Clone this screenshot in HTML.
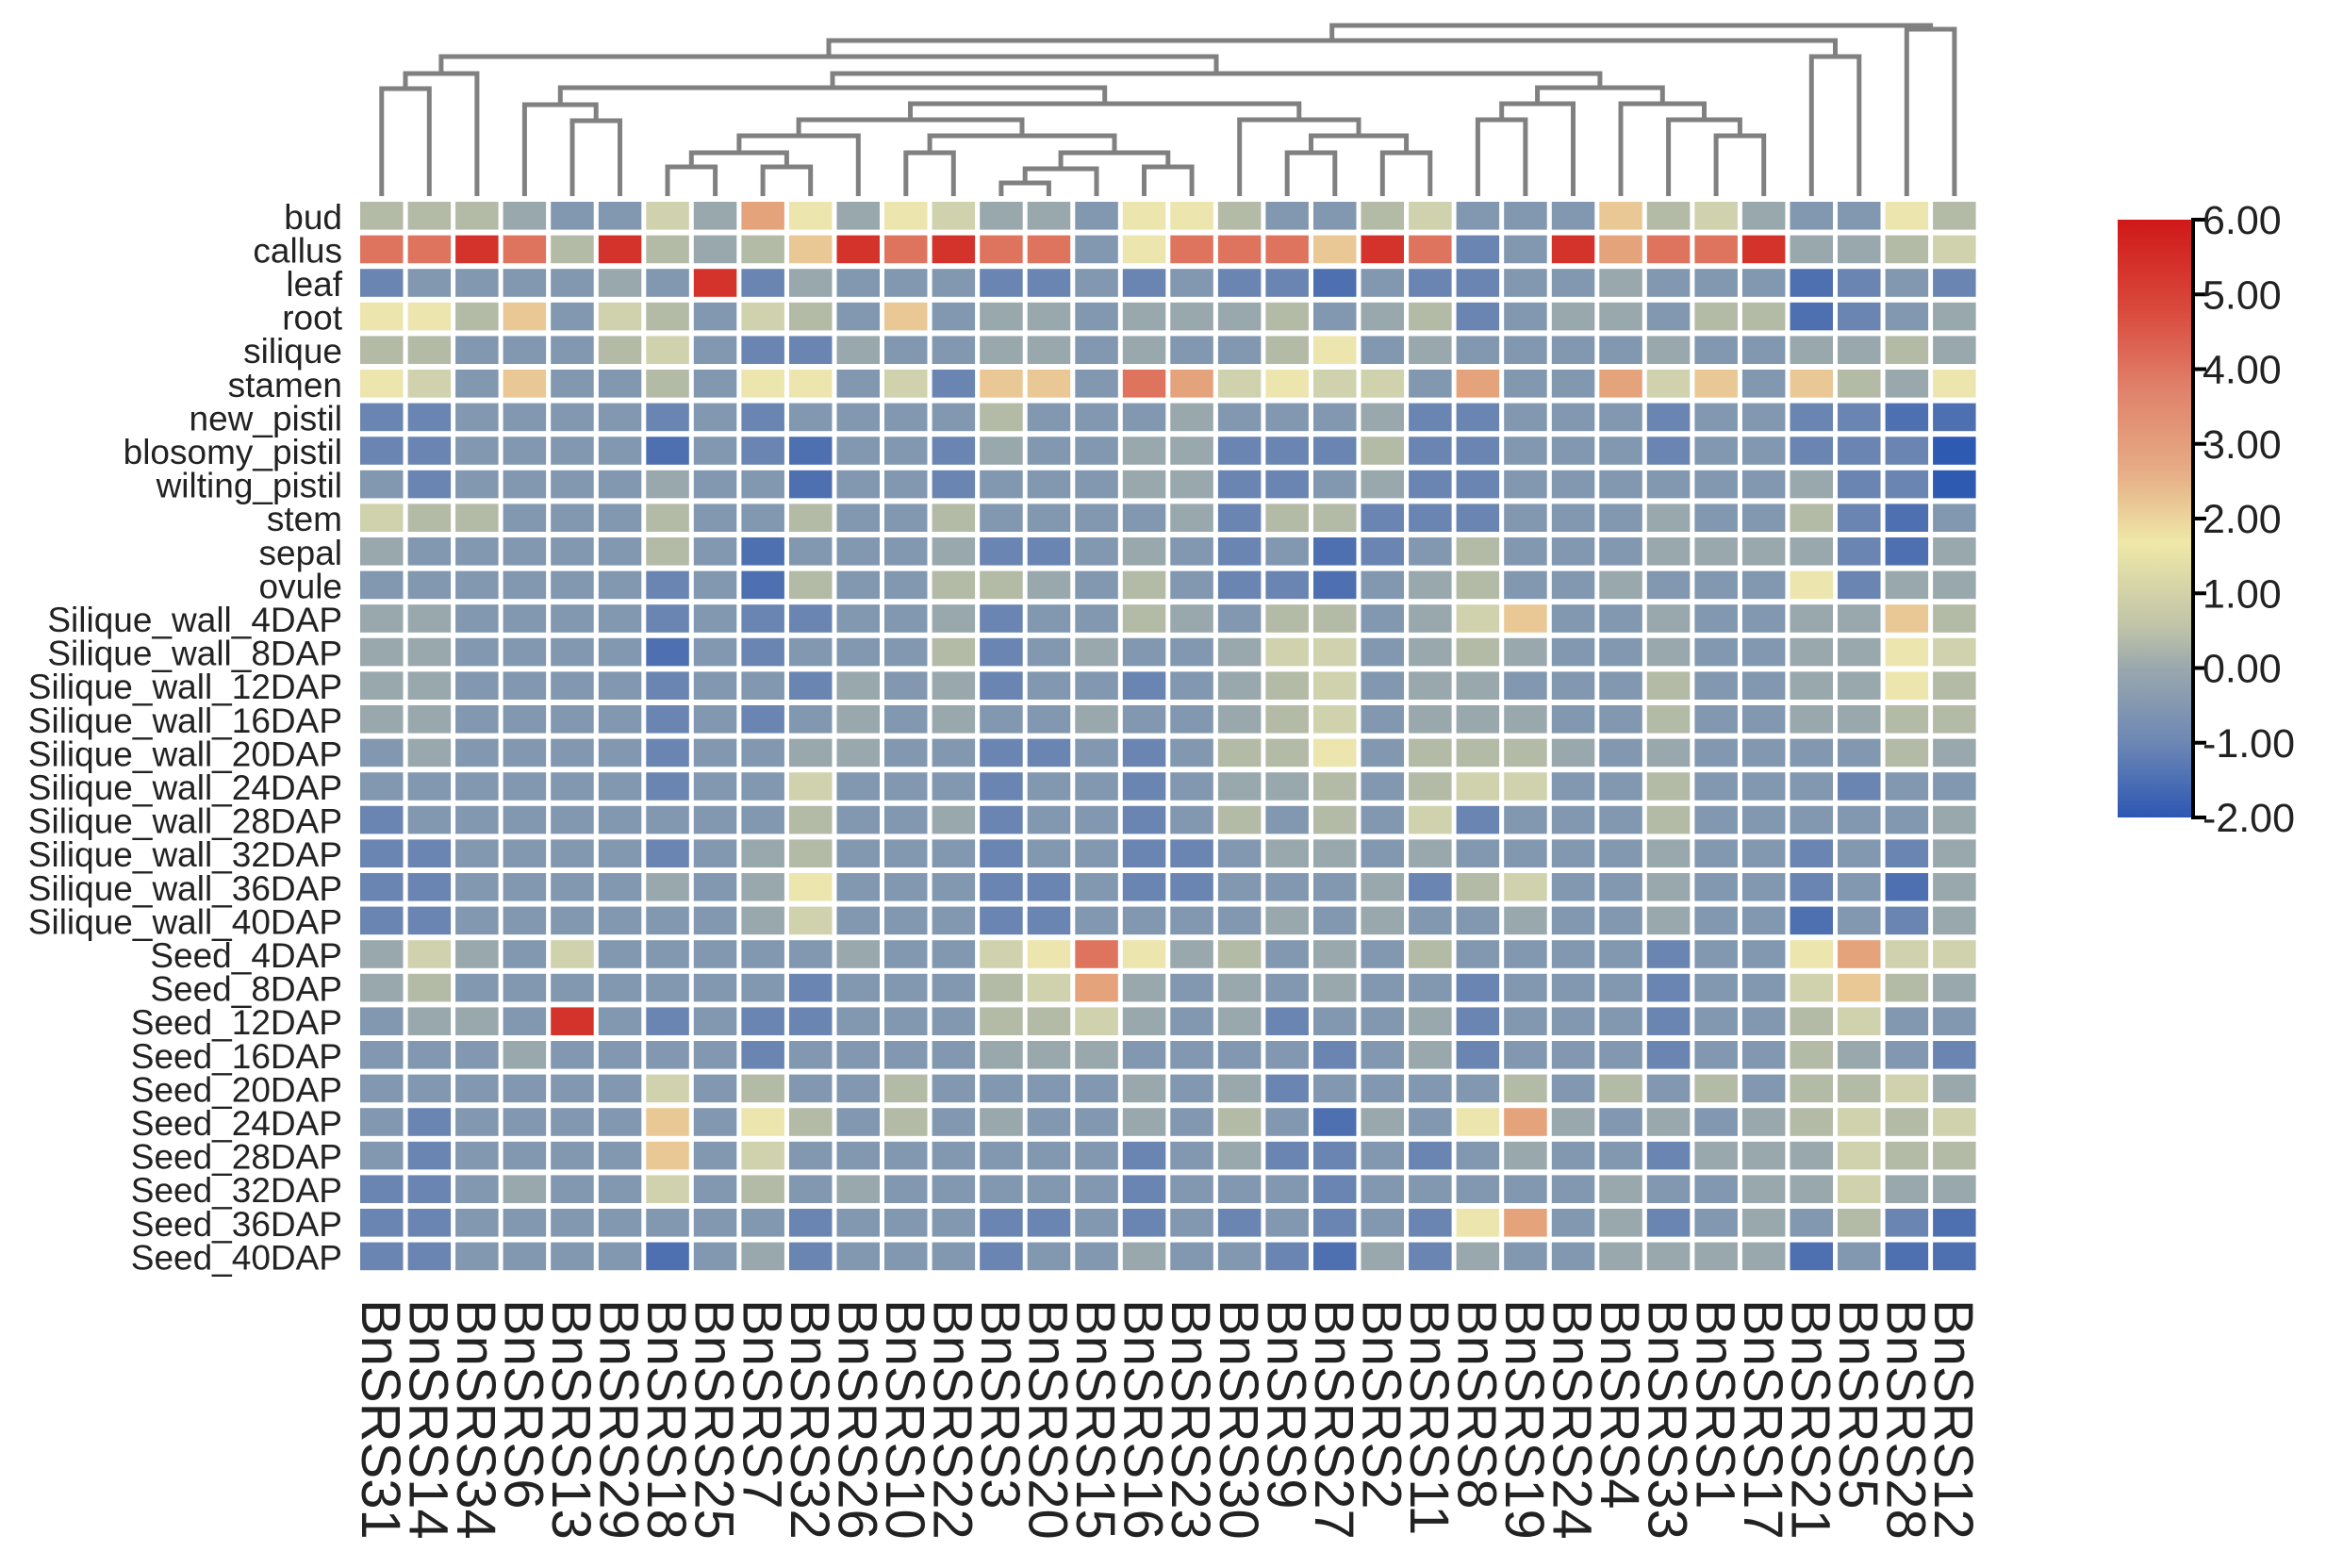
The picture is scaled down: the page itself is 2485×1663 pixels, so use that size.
<!DOCTYPE html>
<html><head><meta charset="utf-8">
<style>
html,body{margin:0;padding:0;background:#fff;}
svg{display:block;}
text{font-family:"Liberation Sans",Arial,sans-serif;fill:#222;}
</style></head>
<body>
<svg id="s" width="2485" height="1663" viewBox="0 0 2485 1663" xmlns="http://www.w3.org/2000/svg">
<defs>
<linearGradient id="cb" x1="0" y1="1" x2="0" y2="0">
<stop offset="0" stop-color="#2c57b3"/>
<stop offset="0.125" stop-color="#6d87b5"/>
<stop offset="0.25" stop-color="#9aa8ad"/>
<stop offset="0.32" stop-color="#c0c4a8"/>
<stop offset="0.46" stop-color="#efe8a8"/>
<stop offset="0.58" stop-color="#e6ac85"/>
<stop offset="0.72" stop-color="#e0806a"/>
<stop offset="0.85" stop-color="#d9493c"/>
<stop offset="1" stop-color="#d01818"/>
</linearGradient>
</defs>
<g id="cells"></g>
<g id="dend" stroke="#808080" stroke-width="5" fill="none"></g>
<g id="rl" font-size="37" text-anchor="end"></g>
<g id="cl" font-size="58"></g>
<rect x="2246" y="233" width="78" height="634" fill="url(#cb)"/>
<g stroke="#000" stroke-width="4">
<line x1="2326" y1="231" x2="2326" y2="869"/>
</g>
<g id="cbt"></g>
</svg>
<script>
var NS="http://www.w3.org/2000/svg";
function el(t,a,p,txt){var e=document.createElementNS(NS,t);for(var k in a)e.setAttribute(k,a[k]);if(txt!==undefined)e.textContent=txt;p.appendChild(e);return e;}
var C={D:"#2e5ab2",B:"#4f70b0",b:"#6a85b2",m:"#8198b0",g:"#99a8ad",n:"#b3baa6",y:"#cfd2ad",Y:"#ece5ae",p:"#eac896",o:"#e5a37c",O:"#df745e",R:"#d3332b"};
var rows=[
["bud","nnngmmygoYgYyggmY","YnmmnymmmpnygmmYn"],
["callus","OOROnRngnpROROOmY","OOOpRObmRoOORggny"],
["leaf","bmmmmgmRbgmmmbbmb","mbbBmbbmmgmmmBbmb"],
["root","YYnpmynmynmpmggmg","ggnmgnbmggmnnBbmg"],
["silique","nnmmmnymbbgmmggmg","mmnYmgmmmmgmmggng"],
["stamen","YympmmnmYYmybppmO","oyYyymommoypmpngY"],
["new_pistil","bbmmmmbmbmmmmnmmm","gmmmgbbmmmbmmbbBB"],
["blosomy_pistil","bbmmmmBmbBmmbgmmg","gbbbnbbmmmbmmbbbD"],
["wilting_pistil","mbmmmmgmmBmmbmmmg","gbbmgbbmmmmmmgbbD"],
["stem","ynnmmmnmmnmmnmmmm","gbnnbbbmmmgmmnbBm"],
["sepal","gmmmmmnmBmmmgbbmg","mbmBbmnmmmggggbBg"],
["ovule","mmmmmmbmBnmmnngmn","mbbBmgnmmgmmmYbgg"],
["Silique_wall_4DAP","ggmmmmbmbbmmgbmmn","gmnnmgypmmgmmggpn"],
["Silique_wall_8DAP","ggmmmmBmbmmmnbmgm","mgyymgngmmgmmggYy"],
["Silique_wall_12DAP","ggmmmmbmmbgmgbmmb","mgnymggmmmnmmggYn"],
["Silique_wall_16DAP","ggmmmmbmbmgmgmmgm","mgnymgggmmnmmggnn"],
["Silique_wall_20DAP","mgmmmmbmmggmmbbmb","mnnYmnnngmgmmmmng"],
["Silique_wall_24DAP","mmmmmmbmmymmmbmmb","mggnmnyymmnmmmbmm"],
["Silique_wall_28DAP","bmmmmmmmmnmmgbmmb","mnmnmybmmmnmmmmmg"],
["Silique_wall_32DAP","bbmmmmbmgnmmmbmmb","bmggmgmmmmgmmbmbg"],
["Silique_wall_36DAP","bbmmmmgmgYmmmbbmb","bmmmgbnymmgmmbmBg"],
["Silique_wall_40DAP","bbmmmmmmgymmmbbmm","mmgmgmmgmmgmmBmbg"],
["Seed_4DAP","gygmymmmmmgmmyYOY","gnmgmnmmmmbmmYoyy"],
["Seed_8DAP","gnmmmmmmmbmmmnyog","mgmgmmbmmmbmmypng"],
["Seed_12DAP","mggmRmbmbbmmmnnyg","mgbmmgbmmmbmmnymm"],
["Seed_16DAP","mmmgmmmmbmmmmgggm","mmmbmgbmmmbmmngmb"],
["Seed_20DAP","mmmmmmymnmmnmmmmg","mgbmmmmnmnmnmnnyg"],
["Seed_24DAP","mbmmmmpmYnmnmgmmg","mnmBgmYogmgmgnyny"],
["Seed_28DAP","mbmmmmpmymmmmmmmb","mgbbmbmgmmbgggynn"],
["Seed_32DAP","bbmgmmymnmgmmmmmb","mmmbmmmmmgmmggygg"],
["Seed_36DAP","bbmmmmmmmbmmmbbmb","mbmbmbYomgbmgmnbB"],
["Seed_40DAP","bbmmmmBmgbmmmbmmg","mmbBgbgmmggggBmBB"]
];
var names=["31","14","34","6","13","29","18","25","7","32","26","10","22","3","20","15","16","23","30","9","27","2","11","8","19","24","4","33","1","17","21","5","28","12"];
var X0=382,PX=50.55,CW=45.5,Y0=214,PY=35.6,CH=29.6;
var cells=document.getElementById("cells"),rl=document.getElementById("rl"),cl=document.getElementById("cl");
rows.forEach(function(r,i){
 var s=r[1]+r[2],y=Y0+i*PY;
 for(var j=0;j<34;j++){el("rect",{x:(X0+j*PX).toFixed(1),y:y.toFixed(1),width:CW,height:CH,fill:C[s[j]]||"#8198b0"},cells);}
 el("text",{x:363,y:(y+CH/2+14).toFixed(1)},rl,r[0]);
});
function cx(j){return X0+CW/2+j*PX;}
names.forEach(function(n,j){
 var x=cx(j)-0.36*58;
 el("text",{transform:"translate("+x.toFixed(1)+",1378) rotate(90)"},cl,"BnSRS"+n);
});
var d=document.getElementById("dend");
function draw(n){
 if(typeof n==="number")return {x:cx(n),y:208};
 var a=draw(n[0]),b=draw(n[1]),h=n[2];
 el("path",{d:"M"+a.x.toFixed(1)+" "+a.y+"V"+h+"H"+b.x.toFixed(1)+"V"+b.y},d);
 return {x:(a.x+b.x)/2,y:h};
}
var T012=[[0,1,94],2,78];
var T345=[3,[4,5,128],111];
var T6_10=[[[6,7,177],[8,9,177],162],10,144];
var T11_17=[[11,12,162],[[[13,14,194],15,179],[16,17,177],162],144];
var A2=[18,[[19,20,162],[21,22,162],144],127];
var T6_22=[[T6_10,T11_17,127],A2,110];
var T3_22=[T345,T6_22,93];
var B=[[[23,24,127],25,110],[26,[27,[28,29,144],127],110],93];
var T0_31=[[T012,[T3_22,B,78],60],[30,31,60],43];
draw([T0_31,[32,33,31],27]);
var cbt=document.getElementById("cbt");
var labs=["6.00","5.00","4.00","3.00","2.00","1.00","0.00","-1.00","-2.00"];
for(var k=0;k<9;k++){
 var yy=233+k*634/8;
 el("line",{x1:2326,y1:yy,x2:2340,y2:yy,stroke:"#000","stroke-width":4},cbt);
 el("text",{x:2336,y:(yy+15).toFixed(1),"font-size":43},cbt,labs[k]);
}
</script>
</body></html>
